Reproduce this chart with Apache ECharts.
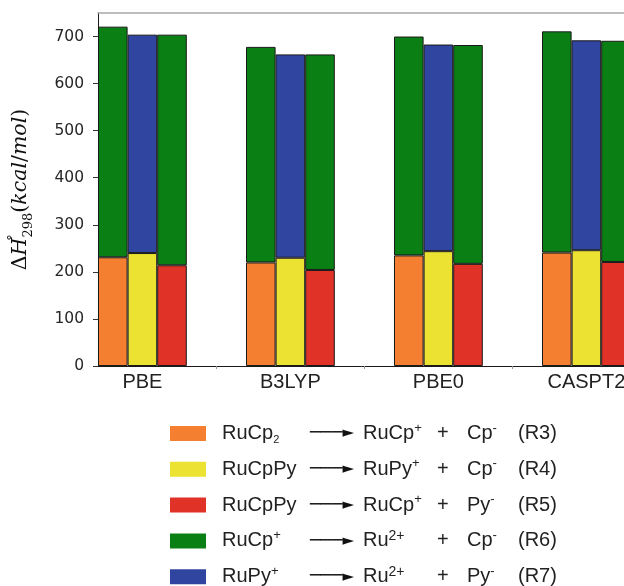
<!DOCTYPE html>
<html>
<head>
<meta charset="utf-8">
<script src="https://cdn.jsdelivr.net/npm/echarts@6/dist/echarts.min.js"></script>
<style>
  html, body { margin: 0; padding: 0; background: #ffffff; }
  #chart { width: 624px; height: 586px; }
</style>
</head>
<body>
<div id="chart"></div>
<script>
// Reaction enthalpies (kcal/mol) per method
const categories = ['PBE', 'B3LYP', 'PBE0', 'CASPT2'];
const r3 = [231, 220, 235, 241];   // RuCp2  -> RuCp+ + Cp-
const r4 = [240, 230, 244, 246];   // RuCpPy -> RuPy+ + Cp-
const r5 = [214, 204, 217, 221];   // RuCpPy -> RuCp+ + Py-
const r6 = [490, 458, 465, 470];   // RuCp+  -> Ru2+  + Cp-
const r7 = [464, 432, 439, 446];   // RuPy+  -> Ru2+  + Py-
const yTicks = [0, 100, 200, 300, 400, 500, 600, 700];

// Legend wording, split into plain / sub / superscript pieces
const reactionTags = ['R3', 'R4', 'R5', 'R6', 'R7'];
const reactants = [
  [['RuCp', 'm'], ['2', 'sub']],
  [['RuCpPy', 'm']],
  [['RuCpPy', 'm']],
  [['RuCp', 'm'], ['+', 'sup']],
  [['RuPy', 'm'], ['+', 'sup']]
];
const products = [
  [['RuCp', 'm'], ['+', 'sup']],
  [['RuPy', 'm'], ['+', 'sup']],
  [['RuCp', 'm'], ['+', 'sup']],
  [['Ru', 'm'], ['2+', 'sup2']],
  [['Ru', 'm'], ['2+', 'sup2']]
];
const anions = [
  [['Cp', 'm'], ['-', 'sup']],
  [['Cp', 'm'], ['-', 'sup']],
  [['Py', 'm'], ['-', 'sup']],
  [['Cp', 'm'], ['-', 'sup']],
  [['Py', 'm'], ['-', 'sup']]
];
// thin shaft plus solid head
const arrowPieces = [['\u2500\u2500\u2500', 'shaft'], ['\u25BA', 'head']];

const colors = {
  orange: '#F47F30', yellow: '#EBE232', red: '#E03226', green: '#0A7F14', blue: '#3045A0'
};

// ---- text measuring for aligned legend columns ----
const measureCtx = document.createElement('canvas').getContext('2d');
function measure(text, size, family) {
  measureCtx.font = size + 'px "' + family + '"';
  return measureCtx.measureText(text).width;
}
const legendFamily = 'Liberation Sans';

const pieceStyles = {
  m:     { fontSize: 20, fontFamily: legendFamily, color: '#222', lineHeight: 24 },
  sub:   { fontSize: 11, fontFamily: legendFamily, color: '#222', lineHeight: 12, verticalAlign: 'bottom' },
  sup:   { fontSize: 13, fontFamily: legendFamily, color: '#222', lineHeight: 14, verticalAlign: 'top' },
  sup2:  { fontSize: 14, fontFamily: legendFamily, color: '#222', lineHeight: 14, verticalAlign: 'top' },
  shaft: { fontSize: 18, fontFamily: 'DejaVu Sans Mono', color: '#111', lineHeight: 24 },
  head:  { fontSize: 15, fontFamily: 'DejaVu Sans', color: '#111', lineHeight: 24 }
};
function pieceWidth(text, styleName) {
  const st = pieceStyles[styleName];
  return measure(text, st.fontSize, st.fontFamily);
}

// column offsets from the start of the reactant text
const colStart = [0, 88, 141, 215, 245, 296];
const leadGap = 11;
const legendRich = Object.assign({}, pieceStyles);
let spacerCount = 0;
function spacer(w) {
  const name = 'g' + (spacerCount++);
  legendRich[name] = { width: w, fontSize: 20, lineHeight: 24 };
  return '{' + name + '|\u00A0}';
}

const seriesNames = reactionTags.map(t => '(' + t + ')');
const legendText = {};
reactionTags.forEach((tag, i) => {
  const segs = [
    reactants[i],
    arrowPieces,
    products[i],
    [['+', 'm']],
    anions[i],
    [['(' + tag + ')', 'm']]
  ];
  let s = spacer(leadGap);
  let x = 0;
  segs.forEach((seg, k) => {
    if (k > 0) {
      const gap = Math.max(colStart[k] - x, 2);
      s += spacer(gap);
      x += gap;
    }
    seg.forEach(([t, st]) => {
      s += '{' + st + '|' + t + '}';
      x += pieceWidth(t, st);
    });
  });
  legendText[seriesNames[i]] = s;
});

// ---- plot geometry ----
const band = 148;                 // px per method
const plotLeft = 98;              // left spine
const plotTop = 13;
const plotHeight = 353;
const plotWidth = 600;            // runs past the right edge of the canvas
const spineMin = -0.3;            // method units at the left spine
const barsLeft = plotLeft - (spineMin + 0.5) * band;   // category band start

function bar(name, data, stack, color) {
  return {
    type: 'bar',
    name: name,
    stack: stack,
    xAxisIndex: 0,
    yAxisIndex: 0,
    barWidth: 29.6,
    barGap: '0%',
    data: data,
    itemStyle: { color: color, borderColor: '#1a1a1a', borderWidth: 1 }
  };
}

const chart = echarts.init(document.getElementById('chart'), null, { renderer: 'canvas' });

const option = {
  animation: false,
  backgroundColor: '#ffffff',
  grid: [
    // bars
    { left: barsLeft, top: plotTop, width: band * categories.length, height: plotHeight, outerBoundsMode: 'none', containLabel: false },
    // frame: spines, ticks and y labels
    { left: plotLeft, top: plotTop, width: plotWidth, height: plotHeight, outerBoundsMode: 'none', containLabel: false }
  ],
  xAxis: [
    {
      gridIndex: 0,
      type: 'category',
      data: categories,
      boundaryGap: true,
      axisLine: { show: false },
      axisTick: { show: false },
      axisLabel: {
        fontFamily: 'Liberation Sans',
        fontSize: 20,
        color: '#222',
        margin: 6
      },
      splitLine: { show: false }
    },
    {
      gridIndex: 1,
      type: 'value',
      min: spineMin,
      max: spineMin + plotWidth / band,
      position: 'bottom',
      axisLine: { show: true, onZero: false, lineStyle: { color: '#1a1a1a', width: 1 } },
      axisTick: { show: true, customValues: [0.5, 1.5, 2.5, 3.5], length: 3, lineStyle: { color: '#999' } },
      axisLabel: { show: false },
      splitLine: { show: false }
    },
    {
      gridIndex: 1,
      type: 'value',
      min: spineMin,
      max: spineMin + plotWidth / band,
      position: 'top',
      axisLine: { show: true, onZero: false, lineStyle: { color: '#a8a8a8', width: 1.5 } },
      axisTick: { show: false },
      axisLabel: { show: false },
      splitLine: { show: false }
    }
  ],
  yAxis: [
    {
      gridIndex: 0,
      type: 'value',
      min: 0,
      max: 750,
      show: false
    },
    {
      gridIndex: 1,
      type: 'value',
      min: 0,
      max: 750,
      axisLine: { show: true, onZero: false, lineStyle: { color: '#1a1a1a', width: 1 } },
      axisTick: { show: true, customValues: yTicks, length: 5, lineStyle: { color: '#333' } },
      axisLabel: {
        customValues: yTicks,
        fontFamily: 'DejaVu Sans',
        fontSize: 15.5,
        color: '#262626',
        margin: 14
      },
      splitLine: { show: false },
      name: '{d|\u0394}{v|H}{deg|\u00B0}{sub|298}{p|(}{v|kcal}{p|/}{v|mol}{p|)}',
      nameLocation: 'middle',
      nameRotate: 90,
      nameGap: 63,
      nameTextStyle: {
        rich: {
          d: { fontFamily: 'DejaVu Serif', fontSize: 20.5, color: '#111', lineHeight: 28 },
          v: { fontFamily: 'DejaVu Serif', fontStyle: 'italic', fontSize: 20.5, color: '#111', lineHeight: 28 },
          p: { fontFamily: 'DejaVu Serif', fontSize: 20.5, color: '#111', lineHeight: 28 },
          deg: { fontFamily: 'DejaVu Serif', fontSize: 13, color: '#111', lineHeight: 13, verticalAlign: 'top', width: 0.01 },
          sub: { fontFamily: 'DejaVu Serif', fontSize: 13, color: '#111', lineHeight: 15, verticalAlign: 'bottom' }
        }
      }
    }
  ],
  legend: {
    orient: 'vertical',
    left: 170,
    top: 421.5,
    height: 300,
    padding: 0,
    itemWidth: 36,
    itemHeight: 15,
    itemGap: 11.8,
    icon: 'rect',
    itemStyle: { borderWidth: 0 },
    data: seriesNames,
    formatter: name => legendText[name],
    textStyle: { fontSize: 20, fontFamily: legendFamily, color: '#222', lineHeight: 24, rich: legendRich }
  },
  series: [
    bar(seriesNames[0], r3, 'a', colors.orange),
    bar(seriesNames[1], r4, 'b', colors.yellow),
    bar(seriesNames[2], r5, 'c', colors.red),
    bar(seriesNames[3], r6, 'a', colors.green),
    bar(seriesNames[4], r7, 'b', colors.blue),
    bar(seriesNames[3], r6, 'c', colors.green)
  ]
};

chart.setOption(option);
</script>
</body>
</html>
